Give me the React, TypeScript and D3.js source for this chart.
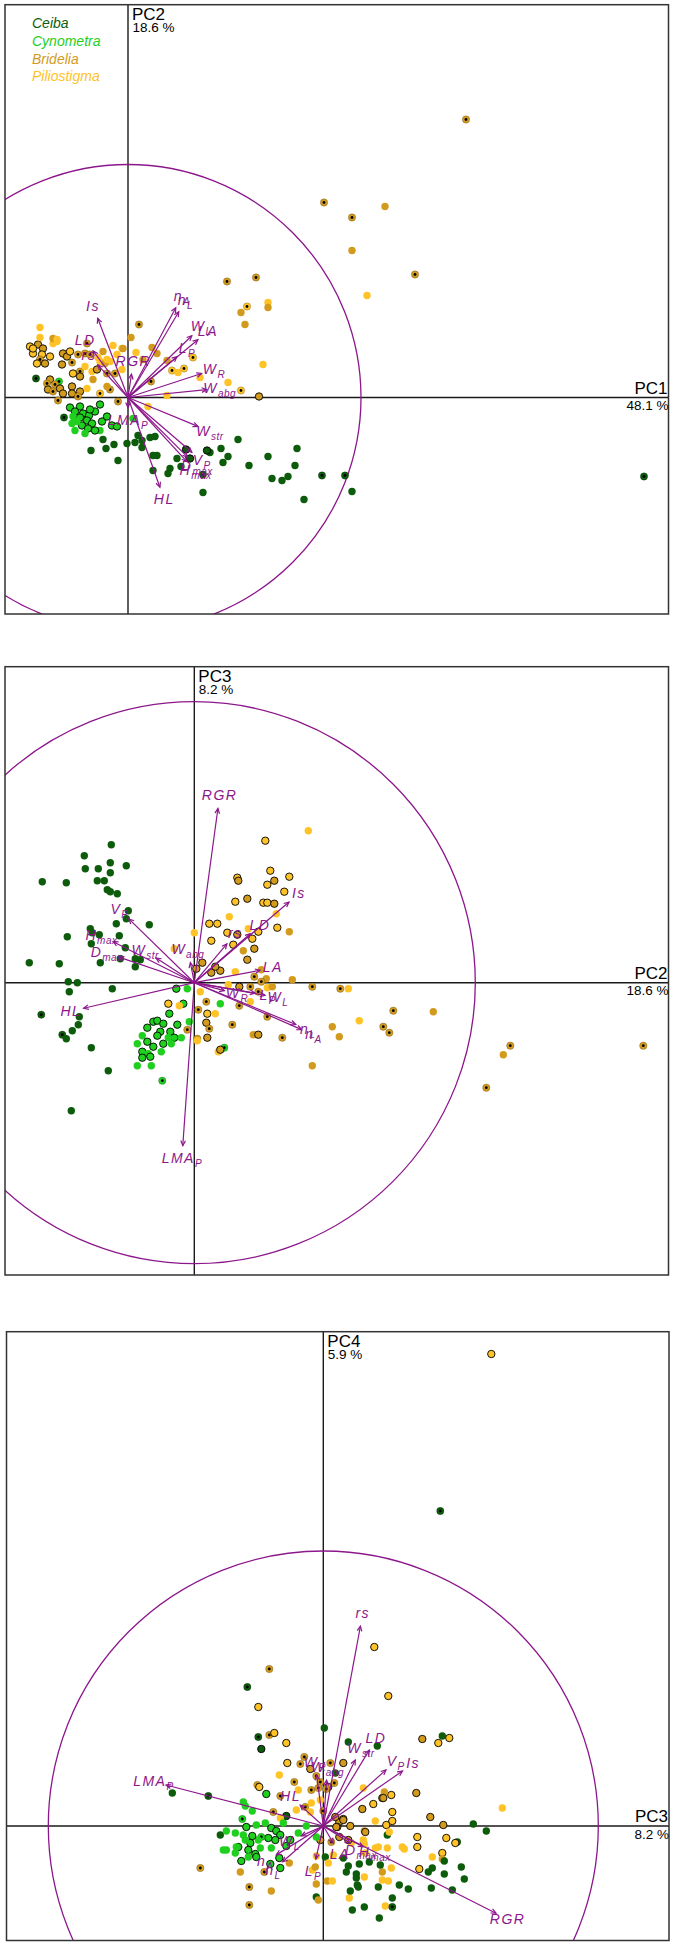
import React from "react";
import * as d3 from "d3";

// species: 0 Ceiba, 1 Cynometra, 2 Bridelia, 3 Piliostigma
const speciesNames = ["Ceiba", "Cynometra", "Bridelia", "Piliostigma"];
const speciesColors = ["#0c5c0c", "#1fd01f", "#d39b1d", "#ffc227"];

// explained variance (%) of the four first axes
const eigenPct = [48.1, 18.6, 8.2, 5.9];

// trait labels: [main, subscript]
const traitLabels: Record<string, [string, string]> = {
  Is: ["Is", ""], LD: ["LD", ""], rs: ["rs", ""], RGR: ["RGR", ""],
  nA: ["n", "A"], nL: ["n", "L"], LA: ["LA", ""], WL: ["W", "L"],
  LP: ["L", "P"], WR: ["W", "R"], Wabg: ["W", "abg"], Wstr: ["W", "str"],
  VP: ["V", "P"], Dmax: ["D", "max"], Hmax: ["H", "max"], HL: ["HL", ""],
  LMAP: ["LMA", "P"],
};

// trait loadings (correlations) on each plane
const loadings12: [string, number, number][] = [
  ["Is", -0.13, 0.34], ["LD", -0.15, 0.2], ["rs", -0.13, 0.14], ["RGR", 0.015, 0.1],
  ["nA", 0.205, 0.385], ["nL", 0.218, 0.368], ["LA", 0.3, 0.248], ["WL", 0.274, 0.265],
  ["LP", 0.21, 0.175], ["WR", 0.316, 0.103], ["Wabg", 0.338, 0.034], ["Wstr", 0.3, -0.124],
  ["VP", 0.274, -0.235], ["Dmax", 0.256, -0.256], ["Hmax", 0.252, -0.274], ["HL", 0.137, -0.385],
  ["LMAP", 0.0, -0.043],
];
const loadings23: [string, number, number][] = [
  ["RGR", 0.084, 0.62], ["LMAP", -0.041, -0.58], ["Is", 0.337, 0.287], ["LD", 0.199, 0.174],
  ["rs", 0.116, 0.138], ["LA", 0.234, 0.044], ["WL", 0.252, -0.045], ["LP", 0.216, -0.037],
  ["WR", 0.107, -0.028], ["nL", 0.361, -0.149], ["nA", 0.382, -0.167], ["Wabg", -0.014, 0.071],
  ["Wstr", -0.136, 0.088], ["Hmax", -0.289, 0.146], ["Dmax", -0.268, 0.091], ["VP", -0.233, 0.227],
  ["HL", -0.394, -0.091],
];
const loadings34: [string, number, number][] = [
  ["LMAP", -0.572, 0.149], ["RGR", 0.628, -0.317], ["rs", 0.135, 0.727], ["LD", 0.167, 0.276],
  ["Wstr", 0.116, 0.24], ["VP", 0.228, 0.204], ["Is", 0.288, 0.2], ["WR", -0.024, 0.185],
  ["Wabg", 0.012, 0.167], ["HL", -0.084, 0.076], ["WL", -0.08, -0.036], ["nA", -0.171, -0.105],
  ["nL", -0.148, -0.13], ["LP", -0.027, -0.12], ["LA", 0.036, -0.062], ["Dmax", 0.097, -0.062],
  ["Hmax", 0.145, -0.075],
];

// sample scores: [x, y, species, mark] ; mark 0 plain, 1 outlined, 2 centre dot
type Pt = [number, number, number, number];
const scores12: Pt[] = [
  [33.8,27.8,2,2],[19.6,19.5,2,2],[22.4,18.0,2,2],[25.7,19.1,2,0],[22.4,14.7,2,0],[28.7,12.3,2,2],
  [23.9,10.2,3,0],[9.9,11.6,2,2],[12.8,12.0,2,2],[11.9,9.1,3,2],[11.3,8.5,2,0],[11.7,7.3,2,0],
  [14.0,9.5,3,0],[14.0,9.0,2,0],[13.5,3.3,3,0],[10.0,1.5,3,0],[11.3,0.7,3,2],[13.1,0.1,2,1],
  [7.2,2.0,3,0],[6.5,4.0,3,2],[5.6,2.9,3,2],[4.4,2.7,3,2],[5.0,2.5,3,0],[3.9,3.7,2,0],
  [1.1,7.3,2,2],[0.3,6.0,2,0],[2.4,5.0,2,0],[2.9,4.4,2,0],[2.0,-0.9,3,0],[3.9,0.2,3,0],[2.3,1.6,2,2],
  [51.6,-7.9,0,2],[11.0,-4.2,0,0],[16.9,-5.1,0,0],[14.0,-5.9,0,0],[12.1,-6.8,0,0],[16.7,-6.8,0,0],
  [14.4,-8.1,0,0],[15.4,-8.3,0,0],[16.0,-7.9,0,0],[19.4,-7.8,0,2],[21.7,-7.8,0,2],[17.6,-10.2,0,0],
  [22.4,-9.4,0,0],[9.3,-5.1,0,0],[10.0,-5.9,0,0],[8.2,-5.5,0,0],[9.5,-6.5,0,0],[7.5,-9.5,0,0],
  [7.5,-7.7,0,2],[5.8,-5.2,0,1],[4.9,-6.1,0,0],[4.2,-7.1,0,0],[4.0,-7.6,0,0],[2.5,-7.3,0,0],
  [2.5,-5.8,0,0],[2.9,-5.8,0,0],[1.0,-3.8,0,0],[2.2,-4.0,0,0],[2.7,-3.9,0,0],[0.7,-4.5,0,0],
  [-0.1,-4.6,0,0],[-1.4,-4.7,0,0],[-2.2,-5.1,0,0],[-3.7,-5.3,0,0],[-1.0,-6.3,0,0],[-2.5,-4.2,0,0],
  [1.4,-4.3,0,0],[1.4,-5.0,0,0],[5.3,-6.9,0,0],[-6.4,-2.0,0,2],[-9.2,1.9,0,2],[6.2,-6.1,0,1],[7.9,-5.3,0,1],
  [-2.8,-0.7,1,1],[-4.8,-0.9,1,1],[-5.8,-1.0,1,1],[-5.3,-1.4,1,1],[-4.5,-1.6,1,1],[-3.9,-1.8,1,1],
  [-3.3,-1.4,1,1],[-4.8,-2.0,1,1],[-4.1,-2.3,1,1],[-3.6,-2.6,1,1],[-4.6,-2.8,1,1],[-4.0,-3.1,1,1],
  [-5.1,-2.4,1,0],[-5.3,-3.3,1,0],[-4.3,-3.6,1,0],[-2.8,-3.3,1,0],[-1.6,-2.8,1,1],[-1.1,-2.9,1,1],
  [-2.6,-2.4,1,1],[-3.3,-3.3,1,1],[-5.5,-1.9,1,0],[-5.6,-2.6,1,0],[0.5,-2.1,1,0],[-2.1,-1.9,1,1],
  [-3.8,-1.2,1,1],[-6.9,1.6,1,2],
  [-9.8,5.1,3,1],[-9.0,5.3,2,1],[-8.5,4.9,2,1],[-9.5,4.4,3,1],[-8.6,4.3,3,1],[-7.8,4.1,3,1],
  [-8.8,3.8,2,2],[-8.3,3.4,2,1],[-9.1,3.4,3,1],[-7.5,5.4,3,0],[-7.1,5.6,3,0],[-8.8,6.0,3,0],
  [-6.5,4.4,2,1],[-6.1,4.1,2,1],[-5.6,3.5,2,2],[-6.6,3.3,2,1],[-5.0,4.3,2,2],[-4.3,4.4,2,2],
  [-3.8,4.3,2,2],[-5.8,4.6,3,1],[-4.8,2.6,2,2],[-4.8,2.1,2,1],[-5.5,2.4,3,1],[-7.8,1.8,2,1],
  [-8.1,1.4,2,2],[-7.3,1.3,2,2],[-8.0,0.8,2,1],[-7.5,0.6,2,2],[-6.8,0.9,2,1],[-7.0,-0.3,2,2],
  [-5.6,1.1,2,1],[-5.6,0.4,2,1],[-4.8,0.6,2,1],[-5.0,0.1,2,2],[-6.5,0.4,2,1],[-4.3,3.1,3,0],
  [-3.6,2.6,3,0],[-4.1,0.9,3,0],[-3.5,1.8,2,0],[-2.8,0.4,3,2],[-1.8,0.8,2,2],[-1.0,-0.4,2,2],
  [-2.1,1.1,2,0],[-3.1,2.8,2,1],[-2.1,2.4,2,2],[-2.8,3.6,3,0],[-1.1,4.3,3,0],[-0.6,4.9,3,0],
  [-1.8,3.6,3,0],[-1.3,2.4,2,2],[-2.3,3.4,2,0],[-0.6,2.8,3,0],[-8.8,7.0,3,0],[-7.5,5.9,2,0],
  [-7.1,5.8,3,0],[-4.1,5.4,2,2],[-0.5,4.9,2,0],[-2.1,3.8,3,0],[-9.5,4.9,3,1],
  [-3.0,4.0,3,0],[-2.5,4.6,2,0],[-1.5,5.2,3,0],[0.8,4.5,3,0],[1.5,3.8,2,0],
];
const scores23: Pt[] = [
  [-8.3,13.8,0,0],[-11.0,12.7,0,0],[-10.9,11.4,0,0],[-9.6,11.4,0,0],[-8.4,12.0,0,0],[-6.8,11.7,0,0],
  [-9.7,10.2,0,0],[-9.0,10.2,0,0],[-8.4,11.0,0,0],[-8.7,9.3,0,0],[-8.4,9.1,0,0],[-7.7,8.9,0,0],
  [-15.2,10.1,0,0],[-12.8,10.0,0,0],[-6.6,7.2,0,0],[-6.8,6.4,0,0],[-7.8,5.9,0,0],[-4.5,5.8,0,0],
  [-12.7,4.6,0,0],[-10.4,5.4,0,0],[-9.5,4.8,0,0],[-7.5,4.7,0,0],[-10.3,3.9,0,0],[-6.9,3.5,0,0],
  [-9.4,2.0,0,0],[-7.4,2.4,0,0],[-5.9,1.6,0,0],[-5.4,2.3,0,0],[-16.5,2.0,0,0],[-13.5,1.9,0,0],
  [-12.6,0.1,0,0],[-11.7,0.0,0,0],[-12.5,-0.9,0,0],[-8.2,-0.6,0,0],[-15.3,-3.2,0,2],[-11.5,-3.4,0,0],
  [-11.6,-4.2,0,0],[-12.2,-4.8,0,0],[-13.2,-5.2,0,2],[-12.8,-5.6,0,0],[-10.3,-6.5,0,0],[-8.6,-8.8,0,0],
  [-12.3,-12.8,0,0],[-5.9,2.4,0,0],[-10.2,5.0,0,0],
  [-1.8,-0.6,1,1],[-1.1,-2.1,1,1],[-0.5,-3.9,1,0],[-2.5,-3.1,1,1],[-1.7,-4.2,1,1],[-4.1,-3.9,1,1],
  [-3.7,-3.8,1,1],[-3.1,-4.1,1,1],[-4.7,-4.5,1,1],[-3.4,-4.9,1,1],[-2.4,-4.9,1,1],[-2.0,-5.5,1,1],
  [-1.3,-5.5,1,0],[-5.2,-5.3,1,0],[-5.7,-6.1,1,0],[-4.7,-5.9,1,1],[-3.7,-5.3,1,1],[-3.1,-6.1,1,1],
  [-4.1,-6.4,1,1],[-5.2,-6.9,1,1],[-4.6,-7.1,1,0],[-3.3,-6.9,1,0],[-5.2,-7.5,1,1],[-4.4,-7.4,1,1],
  [-5.7,-8.3,1,0],[-4.3,-8.3,1,0],[-2.6,-5.5,1,0],[2.6,-2.1,1,0],[3.0,-6.5,1,2],[-3.2,-9.8,1,2],
  [-2.3,-6.1,1,0],[-0.7,-0.6,1,0],
  [11.4,15.2,3,0],[7.1,14.2,3,1],[7.6,11.2,3,1],[9.5,10.6,3,1],[4.3,10.5,3,1],[4.4,10.2,2,1],
  [8.0,10.2,2,1],[7.3,9.8,3,1],[9.0,9.1,3,1],[5.3,8.4,2,1],[4.1,8.1,3,1],[6.9,8.0,3,1],
  [7.3,8.0,3,1],[8.0,7.9,2,1],[8.2,6.9,3,0],[3.5,6.6,3,0],[1.5,5.9,3,1],[2.3,5.9,3,1],
  [1.7,4.2,3,1],[3.3,5.0,3,1],[4.3,4.8,2,1],[5.4,5.4,3,0],[6.4,5.1,3,1],[8.3,5.5,3,1],
  [9.5,5.1,2,0],[5.8,4.4,3,1],[6.0,3.4,2,1],[4.9,3.2,2,0],[3.9,3.8,3,1],[0.0,5.0,3,0],
  [-2.0,3.4,3,0],[5.3,2.3,2,1],[4.1,1.1,3,0],[6.7,1.3,2,0],[9.8,0.3,2,0],[7.2,0.4,2,0],
  [6.0,0.6,2,2],[6.7,0.1,2,2],[0.2,1.4,2,1],[0.8,2.0,2,1],[1.7,1.0,2,1],[2.6,1.2,2,1],
  [2.1,1.6,2,1],[3.4,-0.2,3,0],[4.5,-0.4,2,1],[5.6,-0.4,2,2],[6.4,-0.9,2,2],[7.3,-0.5,3,0],
  [7.8,-0.4,2,0],[11.8,-0.4,2,2],[14.6,-0.6,2,2],[15.4,-0.6,3,0],[1.2,-1.9,2,2],[0.4,-2.7,2,2],
  [1.3,-3.1,3,1],[2.1,-3.1,3,0],[4.5,-2.3,2,2],[5.6,-1.9,3,0],[7.3,-3.4,2,2],[1.2,-4.0,2,1],
  [1.5,-4.6,2,2],[0.3,-5.6,2,2],[1.3,-5.5,2,1],[-0.7,-4.7,2,2],[3.8,-4.2,2,2],[5.9,-5.2,2,0],
  [6.4,-5.2,2,1],[8.8,-5.5,2,2],[13.8,-4.4,2,0],[14.5,-5.4,2,0],[16.5,-3.8,3,0],[18.9,-4.4,2,2],
  [19.5,-5.0,2,2],[19.9,-2.8,2,2],[23.9,-2.9,2,0],[11.8,-8.3,2,0],[31.6,-6.3,2,2],[30.9,-7.2,2,0],
  [44.9,-6.3,2,2],[29.2,-10.5,2,2],[-2.6,-2.1,3,1],[-1.5,-2.3,3,0],[0.6,-0.9,3,0],[2.4,-6.9,3,0],
  [2.6,-6.7,2,1],[0.3,-5.8,3,0],
];
const scores34: Pt[] = [
  [16.8,47.2,3,1],[11.7,31.5,0,2],[5.1,17.9,3,1],[6.5,13.0,3,1],[-5.4,15.7,2,2],[-7.6,13.9,0,2],
  [-6.5,11.9,3,1],[0.1,9.8,0,0],[2.5,8.4,0,0],[5.4,8.0,0,0],[-6.5,8.9,0,2],[-5.4,9.1,2,2],
  [-4.9,9.3,3,1],[-6.2,7.7,0,1],[-3.7,8.3,3,1],[9.9,8.7,2,1],[11.9,9.0,0,0],[11.5,8.3,3,1],
  [12.6,8.8,3,1],[17.9,1.8,3,0],[15.0,0.2,0,0],[16.3,-0.5,0,0],[9.3,3.3,2,1],[10.7,0.9,2,1],
  [12.0,0.1,2,1],[9.4,-1.1,3,1],[9.4,-2.1,3,1],[12.3,-1.2,3,1],[13.4,-1.6,0,0],[13.2,-1.7,3,1],
  [11.9,-2.7,3,1],[11.9,-3.3,2,0],[10.9,-3.1,3,0],[12.1,-3.5,0,0],[13.8,-4.1,0,0],[14.1,-5.3,0,0],
  [12.1,-4.8,0,0],[10.9,-4.2,0,0],[10.5,-4.6,0,0],[9.6,-4.3,3,1],[10.8,-6.2,0,0],[12.9,-6.4,0,0],
  [7.9,-2.1,3,0],[8.1,-2.3,3,0],[-12.3,-4.2,2,2],[-15.1,3.3,0,0],[-11.5,3.0,0,2],[-10.3,-0.9,0,0],
  [-8.8,-0.7,1,0],[-9.7,-0.5,1,0],[-10.0,-2.4,1,0],[-8.5,-2.1,1,1],[-8.2,-3.5,1,1],[-8.3,-4.6,2,0],
  [-7.4,-6.1,2,2],[-7.4,-7.9,2,2],[-5.2,-6.5,2,0],[-5.9,-4.6,2,2],[-3.4,-3.7,2,0],[-0.7,-5.8,2,0],
  [-0.7,-7.1,0,0],[-0.5,-7.4,2,0],[0.4,-5.5,2,0],[0.9,-5.5,3,0],[2.6,-7.2,3,0],[2.9,-8.4,0,0],
  [4.1,-8.1,0,0],[2.7,-6.5,0,0],[3.4,-5.9,0,0],[2.3,-4.6,0,0],[3.3,-4.8,0,0],[4.1,-5.1,3,0],
  [5.6,-9.2,0,0],[6.2,-8.0,3,0],[6.9,-7.2,0,0],[6.9,-8.1,0,2],[7.6,-5.9,0,0],[8.5,-6.3,0,0],
  [5.5,-6.1,0,0],[5.9,-4.6,2,0],[5.9,-5.4,3,0],[6.5,-5.5,3,0],[6.8,-4.2,3,0],[4.6,-3.6,0,0],
  [3.6,-3.8,0,0],[4.2,-2.7,3,0],[5.2,-2.2,3,0],[6.4,-2.2,3,0],[6.4,-0.9,0,0],[4.1,-0.5,2,0],
  [6.3,0.1,3,1],[6.9,0.5,3,1],[5.2,0.5,3,0],[2.7,0.0,2,1],[4.1,-1.8,3,0],[2.8,-1.7,3,0],
  [6.9,1.4,3,1],[5.9,2.8,3,1],[5.0,2.2,3,1],[6.8,3.1,3,1],[3.9,1.7,2,1],[6.1,3.4,2,0],
  [4.0,3.8,3,0],[1.6,0.4,2,1],[2.0,0.7,3,1],[1.4,-0.1,3,1],
  [-3.6,6.3,3,1],[-2.3,6.2,2,2],[-1.9,6.9,2,2],[-1.3,5.7,2,1],[-0.7,5.0,2,2],[0.7,6.3,2,2],
  [2.0,6.3,2,1],[1.2,5.3,0,0],[1.1,4.3,2,2],[0.5,3.9,2,1],[-0.3,4.4,2,2],[0.3,3.7,2,2],
  [-4.4,5.1,3,0],[-2.9,4.4,2,2],[-6.6,4.1,2,2],[-6.4,3.9,3,1],[-2.5,3.6,3,0],[-5.7,3.2,1,1],
  [-4.3,3.0,2,2],[-1.2,3.6,2,2],[-0.5,3.8,2,2],[-1.8,1.9,2,2],[-1.3,1.4,3,0],[-2.7,1.6,3,0],
  [-3.7,1.0,0,1],[-5.0,1.4,2,2],[-4.3,0.8,3,0],[-4.0,0.3,1,0],[-1.2,2.3,3,0],[-0.3,2.6,3,0],
  [0.0,1.5,2,2],[1.2,0.9,2,1],[2.0,0.6,2,1],[1.3,-0.1,2,1],[6.0,2.8,2,1],[4.2,-0.6,2,1],
  [6.6,-0.6,3,0],[4.0,-1.4,3,0],[5.5,-2.1,3,0],[2.5,-1.4,2,1],[1.6,-1.1,2,1],[0.8,-1.6,2,2],
  [-0.3,-1.4,2,1],[-0.7,-3.0,3,0],[0.2,-3.1,0,0],[2.0,-3.2,0,0],[2.5,-4.0,0,0],[5.7,-3.9,0,0],
  [3.3,-5.2,0,0],[3.5,-6.1,0,0],[-1.1,-4.4,3,0],[-0.8,-4.1,2,0],[0.5,-3.7,3,0],[1.0,-2.9,3,0],
  [-8.0,2.4,1,0],[-7.8,2.0,1,0],[-7.1,1.5,1,0],[-8.1,0.7,1,2],[-7.7,-0.1,1,1],[-6.7,0.1,1,0],
  [-5.8,0.3,1,0],[-5.2,-0.2,1,1],[-4.7,-0.5,1,1],[-4.3,-0.9,1,1],[-4.8,-1.4,1,1],[-5.5,-1.2,1,1],
  [-6.2,-1.1,1,2],[-6.5,-1.4,1,0],[-7.3,-1.7,1,1],[-7.8,-1.4,1,0],[-7.5,-2.4,1,1],[-6.8,-2.8,1,1],
  [-6.3,-2.2,1,0],[-5.2,-2.2,1,0],[-3.7,-2.0,1,1],[-3.3,-1.4,1,1],[-2.5,-0.7,1,0],[-1.7,0.0,1,0],
  [-0.7,-1.1,1,0],[-4.3,-4.2,1,1],[-4.4,-3.2,1,1],[-5.3,-3.8,1,1],
  [-8.0,-0.9,1,0],[-8.7,-2.1,1,0],[-9.7,-2.4,1,0],[-8.8,-2.7,1,0],[-7.5,-3.1,1,0],[-6.7,-3.1,1,1],[-7.1,-1.0,1,1],
];

// the three planes: which axes, view window (score units), correlation circle radius
const planes = [
  { ax: [0, 1], box: [5, 4.7, 668.5, 614], xDom: [-12.3, 54.05], yDom: [-21.65, 39.28], R: 23.3,
    scores: scores12, loads: loadings12, legend: true },
  { ax: [1, 2], box: [5, 666.7, 668.5, 1275], xDom: [-18.93, 47.42], yDom: [-29.23, 31.6], R: 28.1,
    scores: scores23, loads: loadings23, legend: false },
  { ax: [2, 3], box: [6.5, 1331.7, 669, 1940.5], xDom: [-31.68, 34.57], yDom: [-11.45, 49.43], R: 27.5,
    scores: scores34, loads: loadings34, legend: false },
];

const purple = "#8c178c";
const font = "'Liberation Sans', Arial, Helvetica, sans-serif";

function Plane({ p, idx }: { p: any; idx: number }) {
  const [left, top, right, bottom] = p.box;
  const x = d3.scaleLinear().domain(p.xDom).range([left, right]);
  const y = d3.scaleLinear().domain(p.yDom).range([bottom, top]);
  const cx = x(0), cy = y(0);
  const rPx = x(p.R) - x(0);
  const clipId = `clip${idx}`;
  const headLen = 5.5, headAng = (25 * Math.PI) / 180;

  return (
    <g>
      <defs>
        <clipPath id={clipId}>
          <rect x={left} y={top} width={right - left} height={bottom - top} />
        </clipPath>
      </defs>
      <g clipPath={`url(#${clipId})`}>
        <line x1={left} x2={right} y1={cy} y2={cy} stroke="#1a1a1a" strokeWidth={1.4} />
        <line x1={cx} x2={cx} y1={top} y2={bottom} stroke="#1a1a1a" strokeWidth={1.4} />
        <circle cx={cx} cy={cy} r={rPx} fill="none" stroke={purple} strokeWidth={1.3} />
        {p.scores.map((d: Pt, i: number) => (
          <g key={i}>
            <circle
              cx={x(d[0])}
              cy={y(d[1])}
              r={3.7}
              fill={speciesColors[d[2]]}
              stroke={d[3] === 1 ? "#000" : d[3] === 2 ? "rgba(0,0,0,0.35)" : "none"}
              strokeWidth={d[3] === 1 ? 0.9 : 0.6}
            />
            {d[3] === 2 && <circle cx={x(d[0])} cy={y(d[1])} r={1.4} fill="#000" />}
          </g>
        ))}
        {p.loads.map((l: [string, number, number], i: number) => {
          const tx = x(l[1] * p.R), ty = y(l[2] * p.R);
          const ang = Math.atan2(ty - cy, tx - cx);
          const h1 = [tx - headLen * Math.cos(ang - headAng), ty - headLen * Math.sin(ang - headAng)];
          const h2 = [tx - headLen * Math.cos(ang + headAng), ty - headLen * Math.sin(ang + headAng)];
          return (
            <g key={i} stroke={purple} strokeWidth={1.2} fill="none">
              <line x1={cx} y1={cy} x2={tx} y2={ty} />
              <polyline points={`${h1[0]},${h1[1]} ${tx},${ty} ${h2[0]},${h2[1]}`} />
            </g>
          );
        })}
        {p.loads.map((l: [string, number, number], i: number) => {
          const tx = x(l[1] * p.R), ty = y(l[2] * p.R);
          const dx = tx - cx, dy = ty - cy;
          const len = Math.hypot(dx, dy) || 1;
          const lx = tx + (dx / len) * 13, ly = ty + (dy / len) * 13;
          const [main, sub] = traitLabels[l[0]];
          return (
            <text key={i} x={lx} y={ly + 4.5} textAnchor="middle" fill={purple}
              fontFamily={font} fontStyle="italic" fontSize={14} letterSpacing={1.5}>
              {main}
              {sub && <tspan fontSize={10} dy={4} letterSpacing={0.5}>{sub}</tspan>}
            </text>
          );
        })}
      </g>
      <rect x={left} y={top} width={right - left} height={bottom - top} fill="none"
        stroke="#333" strokeWidth={1.5} />
      <text x={cx + 4} y={top + 15} fontFamily={font} fontSize={17} fill="#000">
        {`PC${p.ax[1] + 1}`}
      </text>
      <text x={cx + 4.5} y={top + 27.5} fontFamily={font} fontSize={13.5} fill="#000">
        {`${eigenPct[p.ax[1]]} %`}
      </text>
      <text x={right - 1} y={cy - 4} textAnchor="end" fontFamily={font} fontSize={17} fill="#000">
        {`PC${p.ax[0] + 1}`}
      </text>
      <text x={right} y={cy + 12.5} textAnchor="end" fontFamily={font} fontSize={13.5} fill="#000">
        {`${eigenPct[p.ax[0]]} %`}
      </text>
      {p.legend &&
        speciesNames.map((s, i) => (
          <text key={s} x={left + 27} y={top + 23.5 + i * 17.7} fontFamily={font}
            fontStyle="italic" fontSize={14} fill={speciesColors[i]}>
            {s}
          </text>
        ))}
    </g>
  );
}

export default function App() {
  return (
    <svg width={675} height={1946} style={{ position: "absolute", left: 0, top: 0, display: "block" }}>
      <rect x={0} y={0} width={675} height={1946} fill="#fff" />
      {planes.map((p, i) => (
        <Plane key={i} p={p} idx={i} />
      ))}
    </svg>
  );
}
